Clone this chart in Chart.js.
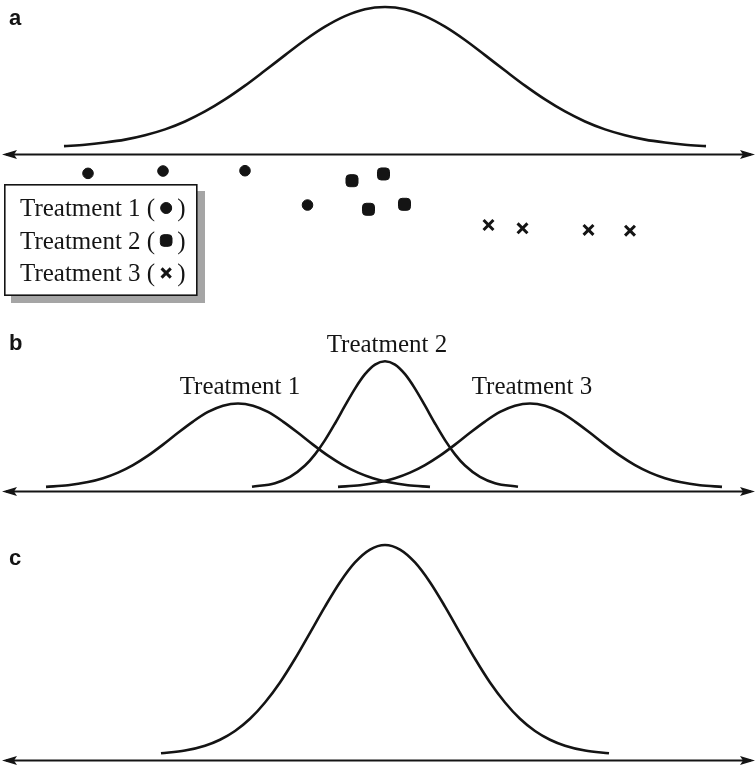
<!DOCTYPE html>
<html><head><meta charset="utf-8">
<script src="https://cdn.jsdelivr.net/npm/chart.js@4.4.1/dist/chart.umd.min.js"></script>
<style>
html,body{margin:0;padding:0;background:#fff;}
#wrap{position:relative;width:755px;height:768px;overflow:hidden;background:#fff;}
canvas{position:absolute;left:0;}
</style></head><body>
<div id="wrap">
<canvas id="ca" width="755" height="308" style="top:0px"></canvas>
<canvas id="cb" width="755" height="200" style="top:331px"></canvas>
<canvas id="cc" width="755" height="238" style="top:530px"></canvas>
</div>
<script>
// ---------- data ----------
const panelLabels = ['a', 'b', 'c'];
const treatmentNames = ['Treatment 1', 'Treatment 2', 'Treatment 3'];

// panel a: overall population curve
const popX = [-64.2, -60, -56, -52, -48, -44, -40, -36, -32, -28, -24, -20, -16, -12, -8, -4, 0, 4, 8, 12, 16, 20, 24, 28, 32, 36, 40, 44, 48, 52, 56, 60, 64.2];
const popY = [5.4, 6.3, 7.8, 9.8, 12.8, 16.8, 22.2, 29.0, 37.2, 46.6, 56.9, 67.4, 77.7, 86.8, 94.0, 98.7, 100.2, 98.7, 94.0, 86.8, 77.7, 67.4, 56.9, 46.6, 37.2, 29.0, 22.2, 16.8, 12.8, 9.8, 7.8, 6.3, 5.4];

// panel a: observations per treatment
const obs1X = [-59.4, -44.4, -28.0, -15.5];
const obs1Y = [-13.2, -11.6, -11.4, -34.8];
const obs2X = [-6.6, -0.3, -3.3, 3.9];
const obs2Y = [-18.2, -13.6, -37.7, -34.3];
const obs3X = [20.7, 27.5, 40.7, 49.0];
const obs3Y = [-48.4, -50.7, -51.8, -52.3];

// panel b: treatment curves
const t1X = [-67.8, -63.4, -59.4, -56.4, -53.4, -50.4, -47.4, -44.4, -41.4, -38.4, -35.4, -32.4, -29.4, -26.4, -23.4, -20.4, -17.4, -14.4, -11.4, -8.4, -5.4, -2.4, 0.6, 4.6, 9.0];
const t1Y = [2.6, 3.6, 5.6, 8.0, 11.5, 16.2, 22.1, 29.0, 36.4, 43.4, 49.4, 53.3, 54.7, 53.3, 49.4, 43.4, 36.4, 29.0, 22.1, 16.2, 11.5, 8.0, 5.6, 3.6, 2.6];
const t2X = [-26.6, -22, -19, -16, -14, -12, -10, -8, -6, -4, -2, 0, 2, 4, 6, 8, 10, 12, 14, 16, 19, 22, 26.6];
const t2Y = [2.6, 4.9, 8.8, 15.9, 22.9, 31.8, 42.2, 53.3, 64.0, 73.0, 79.0, 81.1, 79.0, 73.0, 64.0, 53.3, 42.2, 31.8, 22.9, 15.9, 8.8, 4.9, 2.6];
const t3X = [-9.4, -5.0, -1.0, 2.0, 5.0, 8.0, 11.0, 14.0, 17.0, 20.0, 23.0, 26.0, 29.0, 32.0, 35.0, 38.0, 41.0, 44.0, 47.0, 50.0, 53.0, 56.0, 59.0, 63.0, 67.4];
const t3Y = [2.6, 3.6, 5.6, 8.0, 11.5, 16.2, 22.1, 29.0, 36.4, 43.4, 49.4, 53.3, 54.7, 53.3, 49.4, 43.4, 36.4, 29.0, 22.1, 16.2, 11.5, 8.0, 5.6, 3.6, 2.6];

// panel c: combined / narrower curve
const combX = [-44.8, -40, -36, -33, -30, -27, -24, -21, -18, -15, -12, -9, -6, -3, 0, 3, 6, 9, 12, 15, 18, 21, 24, 27, 30, 33, 36, 40, 44.8];
const combY = [2.9, 4.1, 6.2, 8.8, 12.6, 17.9, 25.0, 33.7, 44.0, 55.3, 66.7, 77.3, 85.9, 91.5, 93.5, 91.5, 85.9, 77.3, 66.7, 55.3, 44.0, 33.7, 25.0, 17.9, 12.6, 8.8, 6.2, 4.1, 2.9];

// ---------- styling ----------
const INK = '#141414';
const SERIF = '"Liberation Serif", "Times New Roman", serif';
const SANS = '"Liberation Sans", Arial, sans-serif';

const pts = (xs, ys) => xs.map((x, i) => ({x: x, y: ys[i]}));

function lineDs(label, xs, ys) {
  return {label: label, data: pts(xs, ys), showLine: true, borderColor: INK, borderWidth: 2.6,
    pointRadius: 0, pointHoverRadius: 0, fill: false, tension: 0.4, cubicInterpolationMode: 'monotone'};
}
function markDs(label, xs, ys, style, r, bw, lr) {
  return {label: label, data: pts(xs, ys), showLine: false, pointStyle: style, pointRadius: r,
    pointHoverRadius: r, pointBackgroundColor: INK, pointBorderColor: INK, pointBorderWidth: bw,
    borderColor: INK, backgroundColor: INK, legendRadius: lr, legendBorder: bw};
}
function baseOpts(ymin, ymax) {
  return {
    responsive: false, animation: false, devicePixelRatio: 1, events: [],
    layout: {padding: 0, autoPadding: false},
    plugins: {legend: {display: false}, tooltip: {enabled: false}, title: {display: false}},
    scales: {
      x: {type: 'linear', min: -77, max: 74, display: false},
      y: {type: 'linear', min: ymin, max: ymax, display: false}
    }
  };
}
function axisPlugin(letter, lx, ly) {
  return {
    id: 'axisArrow',
    beforeDatasetsDraw(chart) {
      const ctx = chart.ctx, a = chart.chartArea;
      const py = Math.round(chart.scales.y.getPixelForValue(0)) + 0.5;
      ctx.save();
      ctx.strokeStyle = INK; ctx.fillStyle = INK; ctx.lineWidth = 2;
      ctx.beginPath(); ctx.moveTo(a.left + 6, py); ctx.lineTo(a.right - 4, py); ctx.stroke();
      ctx.beginPath(); ctx.moveTo(a.left + 2, py); ctx.lineTo(a.left + 17, py - 4.5); ctx.lineTo(a.left + 14, py); ctx.lineTo(a.left + 17, py + 4.5); ctx.closePath(); ctx.fill();
      ctx.beginPath(); ctx.moveTo(a.right, py); ctx.lineTo(a.right - 15, py - 4.5); ctx.lineTo(a.right - 12, py); ctx.lineTo(a.right - 15, py + 4.5); ctx.closePath(); ctx.fill();
      ctx.font = 'bold 22px ' + SANS; ctx.textBaseline = 'alphabetic'; ctx.textAlign = 'left';
      ctx.fillText(letter, lx, ly);
      ctx.restore();
    }
  };
}
const legendBoxPlugin = {
  id: 'legendBox',
  afterDraw(chart) {
    const ctx = chart.ctx;
    ctx.save();
    ctx.fillStyle = 'rgba(105,105,105,0.6)';
    ctx.fillRect(11, 191, 194, 112);
    ctx.fillStyle = '#fff';
    ctx.fillRect(4, 184, 193, 111);
    ctx.strokeStyle = INK; ctx.lineWidth = 1.6;
    ctx.strokeRect(4.8, 184.8, 192, 110.4);
    ctx.font = '25px ' + SERIF; ctx.fillStyle = INK; ctx.textBaseline = 'alphabetic'; ctx.textAlign = 'left';
    const items = chart.data.datasets.filter(d => !d.showLine);
    items.forEach((d, i) => {
      const by = 216 + i * 32.5;
      const t = d.label + ' (';
      ctx.fillText(t, 20, by);
      const w = ctx.measureText(t).width;
      const mx = 20 + w + 11, my = by - 8;
      ctx.lineWidth = d.legendBorder;
      Chart.helpers.drawPoint(ctx, {pointStyle: d.pointStyle, radius: d.legendRadius, borderWidth: d.legendBorder, rotation: 0}, mx, my);
      ctx.fillText(')', mx + 11, by);
    });
    ctx.restore();
  }
};
const curveLabelPlugin = {
  id: 'curveLabels',
  afterDatasetsDraw(chart) {
    const ctx = chart.ctx;
    ctx.save();
    ctx.font = '25px ' + SERIF; ctx.fillStyle = INK; ctx.textAlign = 'center'; ctx.textBaseline = 'alphabetic';
    chart.data.datasets.forEach((d, i) => {
      const meta = chart.getDatasetMeta(i);
      const top = meta.data.reduce((m, p) => (p.y < m.y ? p : m));
      ctx.fillText(d.label, top.x + 2, top.y - 9);
    });
    ctx.restore();
  }
};

// ---------- panel a ----------
new Chart(document.getElementById('ca'), {
  type: 'line',
  data: {datasets: [
    lineDs('Population', popX, popY),
    markDs(treatmentNames[0], obs1X, obs1Y, 'circle', 5.3, 1, 5.5),
    markDs(treatmentNames[1], obs2X, obs2Y, 'rectRounded', 7, 1, 6.8),
    markDs(treatmentNames[2], obs3X, obs3Y, 'crossRot', 7, 3, 6.5)
  ]},
  options: baseOpts(-105, 105),
  plugins: [axisPlugin(panelLabels[0], 9, 25), legendBoxPlugin]
});

// ---------- panel b ----------
new Chart(document.getElementById('cb'), {
  type: 'line',
  data: {datasets: [
    lineDs(treatmentNames[0], t1X, t1Y),
    lineDs(treatmentNames[1], t2X, t2Y),
    lineDs(treatmentNames[2], t3X, t3Y)
  ]},
  options: baseOpts(-25, 100),
  plugins: [axisPlugin(panelLabels[1], 9, 19), curveLabelPlugin]
});

// ---------- panel c ----------
new Chart(document.getElementById('cc'), {
  type: 'line',
  data: {datasets: [
    lineDs('Combined', combX, combY)
  ]},
  options: baseOpts(-3.5, 100),
  plugins: [axisPlugin(panelLabels[2], 9, 35)]
});
</script>
</body></html>
